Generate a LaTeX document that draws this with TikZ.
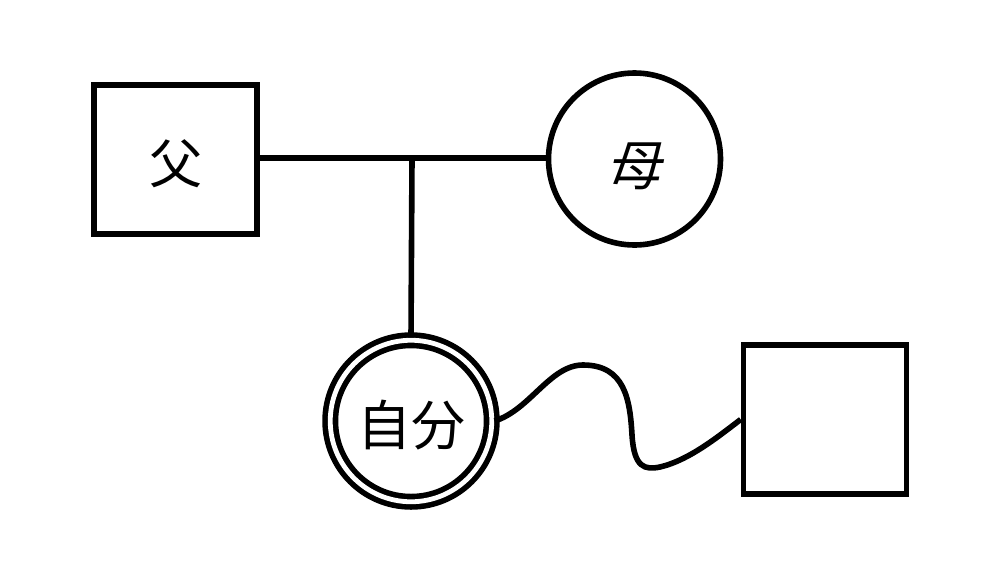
\documentclass[tikz,border=0pt]{standalone}
\usepackage{fontspec}
\newfontfamily\jpfont{Noto Sans CJK JP}
\newfontfamily\jpslfont[FakeSlant=0.2]{Noto Sans CJK JP}
\begin{document}
\begin{tikzpicture}[x=0.5pt,y=-0.5pt,
  ln/.style={line width=2.8pt},
  malebox/.style={draw,ln,rectangle,minimum width=81.5pt,minimum height=74.5pt,inner sep=0pt,text height=27pt,text depth=3pt,font=\jpfont\fontsize{26.5}{30}\selectfont},
  femcirc/.style={draw,ln,circle,minimum size=86pt,inner sep=0pt,text height=29pt,text depth=3pt,font=\jpslfont\fontsize{27}{30}\selectfont},
  selfcirc/.style={draw,circle,line width=2.8pt,double,double distance=2.4pt,minimum size=80.75pt,inner sep=0pt,text height=27pt,text depth=3pt,font=\jpfont\fontsize{27}{30}\selectfont}]
\useasboundingbox (0,0) rectangle (984,568);
\fill[white] (0,0) rectangle (984,568);
\node[malebox] (father) at (175.5,159.5) {父};
\node[femcirc] (mother) at (634.5,159) {母};
\node[selfcirc] (self) at (411,421) {自分};
\node[malebox] (partner) at (825,419.5) {};
\coordinate (mid) at (412,158);
\draw[ln] (father.east |- mid) -- (mother.west |- mid);
\draw[ln] (mid) -- (self.north);
\draw[ln] (self.east) .. controls (530,410) and (550,365) .. (583,365)
  .. controls (625,365) and (630,400) .. (632,435)
  .. controls (634,468) and (645,470) .. (660,467)
  .. controls (690,460) and (720,435) .. (partner.west);
\end{tikzpicture}
\end{document}
